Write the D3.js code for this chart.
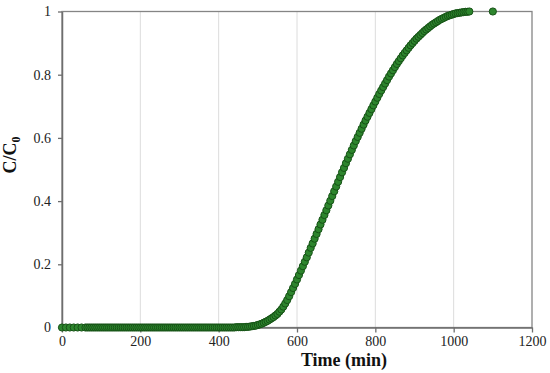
<!DOCTYPE html>
<html>
<head>
<meta charset="utf-8">
<script src="https://cdn.jsdelivr.net/npm/d3@7"></script>
<style>
  html, body { margin: 0; padding: 0; background: #fff; }
  svg { display: block; }
  svg text { font-family: "Liberation Serif", "Times New Roman", serif; }
</style>
</head>
<body>
<div id="chart"></div>
<script>
// breakthrough curve, C/C0 vs time (min)
var timeData = [
  0, 10, 20, 30, 40, 50, 60,
  65, 70, 75, 80, 85, 90, 95, 100, 105, 110, 115, 120, 125, 130, 135, 140, 145, 150,
  155, 160, 165, 170, 175, 180, 185, 190, 195, 200, 205, 210, 215, 220, 225, 230, 235, 240,
  245, 250, 255, 260, 265, 270, 275, 280, 285, 290, 295, 300, 305, 310, 315, 320, 325, 330,
  335, 340, 345, 350, 355, 360, 365, 370, 375, 380, 385, 390, 395, 400, 405, 410, 415, 420,
  425, 430, 435, 440, 445, 450, 455, 460, 465, 470,
  475, 480, 485, 490, 495, 500, 505, 510, 515, 520, 525, 530, 535, 540, 545, 550, 555, 560,
  565, 570, 575, 580, 585, 590, 595, 600, 605, 610, 615, 620, 625, 630, 635, 640, 645, 650,
  655, 660, 665, 670, 675, 680, 685, 690, 695, 700, 705, 710, 715, 720, 725, 730, 735, 740,
  745, 750, 755, 760, 765, 770, 775, 780, 785, 790, 795, 800, 805, 810, 815, 820, 825, 830,
  835, 840, 845, 850, 855, 860, 865, 870, 875, 880, 885, 890, 895, 900, 905, 910, 915, 920,
  925, 930, 935, 940, 945, 950, 955, 960, 965, 970, 975, 980, 985, 990, 995, 1000, 1005, 1010,
  1015, 1020, 1025, 1030, 1035, 1040, 1100
];
var ratioData = [
  0, 0, 0, 0, 0, 0, 0,
  0, 0, 0, 0, 0, 0, 0, 0, 0, 0, 0, 0, 0, 0, 0, 0, 0, 0,
  0, 0, 0, 0, 0, 0, 0, 0, 0, 0, 0, 0, 0, 0, 0, 0, 0, 0,
  0, 0, 0, 0, 0, 0, 0, 0, 0, 0, 0, 0, 0, 0, 0, 0, 0, 0,
  0, 0, 0, 0, 0, 0, 0, 0, 0, 0, 0, 0, 0, 0, 0, 0, 0, 0,
  0, 0, 0, 0, 0.001, 0.001, 0.001, 0.001, 0.001, 0.002,
  0.002, 0.003, 0.004, 0.005, 0.006, 0.008, 0.010, 0.012, 0.015, 0.018, 0.021, 0.025, 0.029, 0.033, 0.038, 0.043, 0.050, 0.057,
  0.066, 0.076, 0.087, 0.099, 0.112, 0.125, 0.138, 0.152, 0.166, 0.180, 0.194, 0.208, 0.222, 0.237, 0.252, 0.266, 0.281, 0.296,
  0.311, 0.326, 0.341, 0.356, 0.371, 0.386, 0.401, 0.416, 0.431, 0.446, 0.461, 0.476, 0.491, 0.505, 0.520, 0.534, 0.548, 0.562,
  0.576, 0.590, 0.603, 0.616, 0.629, 0.642, 0.655, 0.667, 0.679, 0.691, 0.703, 0.715, 0.727, 0.739, 0.750, 0.761, 0.772, 0.783,
  0.794, 0.804, 0.814, 0.824, 0.834, 0.843, 0.852, 0.861, 0.869, 0.877, 0.885, 0.893, 0.900, 0.907, 0.914, 0.920, 0.926, 0.932,
  0.938, 0.943, 0.948, 0.953, 0.958, 0.962, 0.966, 0.970, 0.974, 0.977, 0.980, 0.983, 0.986, 0.988, 0.990, 0.992, 0.994, 0.995,
  0.996, 0.997, 0.998, 0.999, 0.999, 1.000, 1.000
];
var xTicks = [0, 200, 400, 600, 800, 1000, 1200];
var yTicks = [0, 0.2, 0.4, 0.6, 0.8, 1];

var width = 550, height = 373;
var margin = { top: 11.5, right: 18, bottom: 45.5, left: 62 };

var svg = d3.select('#chart')
  .append('svg')
  .attr('width', width)
  .attr('height', height);

var x = d3.scaleLinear()
  .domain([0, 1200])
  .range([margin.left, width - margin.right]);
var y = d3.scaleLinear()
  .domain([0, 1])
  .range([height - margin.bottom, margin.top]);

// vertical gridlines
svg.append('g')
  .attr('class', 'grid')
  .selectAll('line')
  .data(xTicks.slice(1, -1))
  .enter()
  .append('line')
  .attr('x1', function (d) { return x(d); })
  .attr('x2', function (d) { return x(d); })
  .attr('y1', y(0))
  .attr('y2', y(1))
  .attr('stroke', '#dcdcdc')
  .attr('stroke-width', 1);

// plot frame (top, right)
svg.append('rect')
  .attr('x', x(0))
  .attr('y', y(1))
  .attr('width', x(1200) - x(0))
  .attr('height', y(0) - y(1))
  .attr('fill', 'none')
  .attr('stroke', '#858585')
  .attr('stroke-width', 1.3);

// x axis
svg.append('g')
  .attr('class', 'xAxis')
  .attr('transform', 'translate(0,' + y(0) + ')')
  .call(d3.axisBottom(x).tickValues(xTicks).tickFormat(d3.format('d')).tickSizeInner(5).tickSizeOuter(0).tickPadding(4));

// y axis
svg.append('g')
  .attr('class', 'yAxis')
  .attr('transform', 'translate(' + x(0) + ',0)')
  .call(d3.axisLeft(y).tickValues(yTicks).tickFormat(function (d) { return d; }).tickSizeInner(4).tickSizeOuter(0).tickPadding(7));

svg.selectAll('.xAxis path, .yAxis path').attr('stroke', '#6e6e6e').attr('stroke-width', 1.5);
svg.selectAll('.xAxis line, .yAxis line').attr('stroke', '#6e6e6e').attr('stroke-width', 1.3);
svg.selectAll('.xAxis text, .yAxis text')
  .style('font-family', '"Liberation Serif", "Times New Roman", serif')
  .style('font-size', '14px')
  .attr('fill', '#222');

// points
svg.append('g')
  .attr('class', 'points')
  .selectAll('circle')
  .data(timeData.map(function (t, i) { return { t: t, c: ratioData[i] }; }))
  .enter()
  .append('circle')
  .attr('cx', function (d) { return x(d.t); })
  .attr('cy', function (d) { return y(d.c); })
  .attr('r', 3.6)
  .attr('fill', '#2d852d')
  .attr('stroke', '#165216')
  .attr('stroke-width', 1);

// axis titles
svg.append('text')
  .attr('x', 344)
  .attr('y', 366)
  .attr('text-anchor', 'middle')
  .style('font-size', '18px')
  .style('font-weight', 'bold')
  .attr('fill', '#111')
  .text('Time (min)');

var yTitle = svg.append('text')
  .attr('transform', 'translate(16,155) rotate(-90)')
  .attr('text-anchor', 'middle')
  .style('font-size', '18px')
  .style('font-weight', 'bold')
  .attr('fill', '#111');
yTitle.append('tspan').text('C/C');
yTitle.append('tspan')
  .style('font-size', '12px')
  .attr('dy', 4)
  .text('0');
</script>
</body>
</html>
